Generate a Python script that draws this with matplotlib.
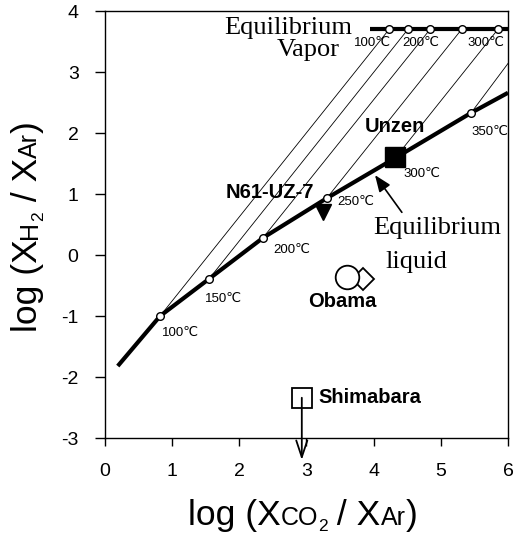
import matplotlib
matplotlib.use('Agg')
import matplotlib.pyplot as plt

plt.rcParams['font.family'] = ['Liberation Sans', 'DejaVu Sans']
plt.rcParams['axes.unicode_minus'] = False

# equilibrium liquid curve, circles at 100..350 C
temps = [100, 150, 200, 250, 300, 350]
liq_x = [0.82, 1.55, 2.35, 3.30, 4.32, 5.45]
liq_y = [-1.00, -0.39, 0.28, 0.93, 1.59, 2.33]
curve_start = (0.19, -1.82)
curve_end = (6.0, 2.66)

# equilibrium vapor line
vap_x = [4.23, 4.51, 4.84, 5.31, 5.85, 6.38]
vap_y = 3.70
vap_line_x = [3.95, 6.0]

# samples
unzen = (4.32, 1.61)
n61 = (3.25, 0.70)
obama_circle = (3.60, -0.36)
obama_diamond = (3.84, -0.39)
shimabara = (2.93, -2.34)
shimabara_arrow_end = -3.36

xticks = [0, 1, 2, 3, 4, 5, 6]
yticks = [-3, -2, -1, 0, 1, 2, 3, 4]


def rich_label(fig, ax, x, y, parts, vertical=False):
    """ Draws text pieces of different sizes on a common baseline """
    k = 0.21  # descent as fraction of font size
    prev = None
    for text, size, shift in parts:
        if prev is None:
            if vertical:
                t = ax.text(x, y, text, fontsize=size, rotation=90, rotation_mode='anchor',
                            ha='left', va='baseline', transform=fig.transFigure)
            else:
                t = ax.text(x, y, text, fontsize=size, ha='left', va='baseline',
                            transform=fig.transFigure)
        else:
            off = shift - prev_shift + k * (prev_size - size)
            if vertical:
                t = ax.annotate(text, xy=(1, 1), xycoords=prev, xytext=(-off, 0),
                                textcoords='offset points', rotation=90, ha='right',
                                va='bottom', fontsize=size, annotation_clip=False)
            else:
                t = ax.annotate(text, xy=(1, 0), xycoords=prev, xytext=(0, off),
                                textcoords='offset points', ha='left', va='bottom',
                                fontsize=size, annotation_clip=False)
        prev, prev_size, prev_shift = t, size, shift


fig = plt.figure(figsize=(5.14, 5.36), dpi=100)
ax = fig.add_axes([0.2043, 0.1828, 0.784, 0.7966])

# tie lines between liquid and vapor
for lx, ly, vx in zip(liq_x, liq_y, vap_x):
    ax.plot([lx, vx], [ly, vap_y], color='k', lw=0.6, zorder=2)

# thick curves
ax.plot([curve_start[0]] + liq_x + [curve_end[0]], [curve_start[1]] + liq_y + [curve_end[1]],
        color='k', lw=3, solid_capstyle='butt', zorder=3)
ax.plot(vap_line_x, [vap_y, vap_y], color='k', lw=3, solid_capstyle='butt', zorder=3)

# open circles
ax.plot(liq_x, liq_y, 'o', ms=5.5, mfc='white', mec='k', mew=1, zorder=4)
ax.plot(vap_x, [vap_y] * len(vap_x), 'o', ms=5.5, mfc='white', mec='k', mew=1, zorder=4)

# temperature labels
tsize = 9.5
for t, (x, y) in zip(temps,
                     [(1.12, -1.28), (1.76, -0.72), (2.78, 0.08), (3.74, 0.87), (4.72, 1.33), (5.73, 2.02)]):
    ax.text(x, y, f'{t}℃', fontsize=tsize, ha='center', va='center')
for t, x in zip([100, 200, 300], [3.99, 4.70, 5.67]):
    ax.text(x, 3.48, f'{t}℃', fontsize=tsize, ha='center', va='center')

# samples
ax.plot(*unzen, 's', ms=14.5, color='k', zorder=6)
ax.plot(*n61, 'v', ms=12, color='k', zorder=6)
ax.plot(*obama_diamond, 'D', ms=11.5, mfc='white', mec='k', mew=1.3, zorder=6)
ax.plot(*obama_circle, 'o', ms=17, mfc='white', mec='k', mew=1.3, zorder=7)
ax.plot(*shimabara, 's', ms=14.5, mfc='white', mec='k', mew=1.3, zorder=6)
ax.annotate('', xy=(shimabara[0], shimabara_arrow_end), xytext=shimabara,
            arrowprops=dict(arrowstyle='->,head_length=1.2,head_width=0.4', color='k', lw=1.3,
                            shrinkA=0, shrinkB=0), annotation_clip=False, zorder=7)

bold = dict(fontsize=14.5, fontweight='bold', ha='center', va='center')
ax.text(4.32, 2.10, 'Unzen', **bold)
ax.text(2.46, 1.03, 'N61-UZ-7', **bold)
ax.text(3.54, -0.77, 'Obama', **bold)
ax.text(3.17, -2.34, 'Shimabara', fontsize=14.5, fontweight='bold', ha='left', va='center')

serif = dict(fontsize=19, family='Liberation Serif', va='center')
ax.text(3.68, 3.72, 'Equilibrium', ha='right', **serif)
ax.text(3.50, 3.36, 'Vapor', ha='right', **serif)
ax.text(4.94, 0.44, 'Equilibrium', ha='center', **serif)
ax.text(4.64, -0.11, 'liquid', ha='center', **serif)
ax.annotate('', xy=(4.02, 1.31), xytext=(4.42, 0.70),
            arrowprops=dict(arrowstyle='-|>,head_length=1.0,head_width=0.4', color='k', lw=1.2,
                            shrinkA=0, shrinkB=0))

ax.set_xlim(0, 6)
ax.set_ylim(-3, 4)
ax.set_xticks(xticks)
ax.set_yticks(yticks)
ax.tick_params(axis='x', direction='out', length=6, width=1, pad=12, labelsize=14)
ax.tick_params(axis='y', direction='out', length=7, width=1, pad=12, labelsize=14)
for s in ax.spines.values():
    s.set_linewidth(1.0)

rich_label(fig, ax, 0.365, 0.0205,
           [('log (X', 25.5, 0), ('CO', 18, 0), ('2', 12.5, -4), (' / X', 25.5, 0),
            ('Ar', 18, 0), (')', 25.5, 0)])
rich_label(fig, ax, 0.072, 0.381,
           [('log (X', 25.5, 0), ('H', 18, 0), ('2', 12.5, -4), (' / X', 25.5, 0),
            ('Ar', 18, 0), (')', 25.5, 0)], vertical=True)

fig.savefig('out.png', dpi=100)
